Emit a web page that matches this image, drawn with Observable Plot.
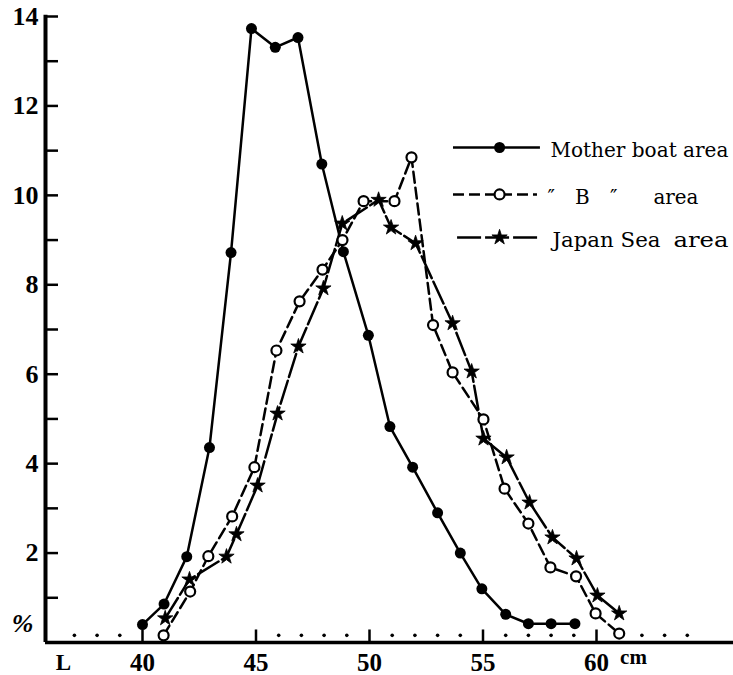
<!DOCTYPE html>
<html><head><meta charset="utf-8">
<script src="https://cdn.jsdelivr.net/npm/d3@7"></script>
<script src="https://cdn.jsdelivr.net/npm/@observablehq/plot@0.6"></script>
<style>body{margin:0;background:#fff} #chart svg{display:block}</style>
</head><body><div id="chart"></div>
<script>
// Mother boat area (filled circles)
const motherLen = [40, 40.95, 41.95, 42.95, 43.9, 44.8, 45.85, 46.85, 47.9, 48.85, 49.95, 50.9, 51.9, 53, 54, 54.95, 56, 57, 58, 59.05];
const motherPct = [0.4, 0.86, 1.92, 4.36, 8.72, 13.73, 13.31, 13.53, 10.7, 8.74, 6.87, 4.83, 3.92, 2.9, 2.0, 1.2, 0.63, 0.42, 0.42, 0.42];
// "B" area (open circles)
const bLen = [40.93, 42.1, 42.9, 43.95, 44.93, 45.9, 46.92, 47.93, 48.81, 49.74, 51.1, 51.85, 52.8, 53.66, 55.02, 55.95, 57.0, 57.97, 59.1, 59.96, 61.0];
const bPct = [0.16, 1.14, 1.93, 2.82, 3.92, 6.53, 7.63, 8.34, 9.0, 9.87, 9.87, 10.85, 7.1, 6.04, 4.99, 3.44, 2.66, 1.68, 1.48, 0.65, 0.2];
// Japan Sea area (stars)
const jLen = [41.0, 42.07, 43.7, 44.14, 45.07, 45.95, 46.87, 47.97, 48.8, 50.4, 50.95, 52.03, 53.66, 54.5, 55.02, 56.04, 57.05, 58.06, 59.12, 60.04, 61.0];
const jPct = [0.54, 1.41, 1.92, 2.42, 3.51, 5.12, 6.62, 7.92, 9.37, 9.9, 9.28, 8.93, 7.14, 6.06, 4.56, 4.14, 3.13, 2.35, 1.88, 1.05, 0.65];

const yTicks = [1,2,3,4,5,6,7,8,9,10,11,12,13,14];
const yLabels = [2,4,6,8,10,12,14];
const xMajor = [40,45,50,55,60];
const xLabels = ["40","45","50","55","60"];
const xDots = [37,38,39,46,47,48,49,51,52,53,54,56,57,58,59,61,62,63,64];
const seriesNames = ["Mother boat area", "\u2033 B \u2033", "area", "Japan Sea", "area"];

const mother = motherLen.map((x,i)=>({x, y: motherPct[i]}));
const bArea = bLen.map((x,i)=>({x, y: bPct[i]}));
const japan = jLen.map((x,i)=>({x, y: jPct[i]}));

const X0 = 35.727;
const numFont = "'Liberation Serif', serif";
const legFont = "'DejaVu Serif', serif";
const T = {fontFamily: numFont, fill: "black"};
const L = {fontFamily: legFont, fill: "black", textAnchor: "start", fontSize: 20, dy: 3};

const svg = Plot.plot({
  width: 733, height: 675,
  marginLeft: 45, marginRight: 0, marginTop: 16, marginBottom: 33,
  x: {domain: [X0, 66.035], axis: null},
  y: {domain: [0, 14], axis: null},
  style: {fontFamily: numFont, background: "white", color: "black"},
  marks: [
    // axes
    Plot.ruleY([0], {strokeWidth: 3.5, stroke: "black"}),
    Plot.ruleX([X0], {y1: 0, y2: 14.03, strokeWidth: 4, stroke: "black"}),
    Plot.ruleY(yTicks, {x1: X0, x2: X0 + 13/22.7, strokeWidth: 2.5, stroke: "black"}),
    Plot.text(yLabels, {...T, x: X0, y: d => d, text: d => String(d), dx: -7, textAnchor: "end", fontSize: 26, fontWeight: "bold"}),
    Plot.text(["%"], {...T, x: X0, y: 0.43, text: d => d, dx: -23, fontSize: 26, fontStyle: "italic", fontWeight: "bold"}),
    Plot.ruleX(xMajor, {y1: 0, y2: 0.28, strokeWidth: 2.5, stroke: "black"}),
    Plot.dot(xDots, {x: d => d, y: 0.16, r: 1.8, fill: "black"}),
    Plot.text(xLabels, {...T, x: d => +d, y: 0, text: d => d, dy: 20, fontSize: 25, fontWeight: "bold"}),
    Plot.text(["L"], {...T, x: 36.52, y: 0, text: d => d, dy: 20, fontSize: 23, fontWeight: "bold"}),
    Plot.text(["cm"], {...T, x: 61.63, y: 0, text: d => d, dy: 15, fontSize: 21, fontWeight: "bold"}),

    // series lines
    Plot.line(mother, {x: "x", y: "y", stroke: "black", strokeWidth: 2.5}),
    Plot.line(bArea, {x: "x", y: "y", stroke: "black", strokeWidth: 2.5, strokeDasharray: "11,5"}),
    Plot.line(japan, {x: "x", y: "y", stroke: "black", strokeWidth: 2.5, strokeDasharray: "24,4"}),
    Plot.dot(mother, {x: "x", y: "y", r: 5.5, fill: "black"}),
    Plot.dot(bArea, {x: "x", y: "y", r: 5, fill: "white", stroke: "black", strokeWidth: 2.2}),
    Plot.dot(japan, {x: "x", y: "y", r: 4.8, symbol: "star", fill: "black", stroke: "black", strokeWidth: 0.8}),

    // legend
    Plot.ruleY([11.07], {x1: 53.70, x2: 57.53, stroke: "black", strokeWidth: 2.5}),
    Plot.dot([55.73], {x: d => d, y: 11.07, r: 5.5, fill: "black"}),
    Plot.ruleY([10.02], {x1: 53.70, x2: 57.40, stroke: "black", strokeWidth: 2.5, strokeDasharray: "11,5"}),
    Plot.dot([55.73], {x: d => d, y: 10.02, r: 5, fill: "white", stroke: "black", strokeWidth: 2.2}),
    Plot.ruleY([9.06], {x1: 53.88, x2: 57.53, stroke: "black", strokeWidth: 2.5, strokeDasharray: "24,4"}),
    Plot.dot([55.73], {x: d => d, y: 9.06, r: 4.8, symbol: "star", fill: "black", stroke: "black", strokeWidth: 0.8}),
    Plot.text([seriesNames[0]], {...L, x: 57.97, y: 11.07, text: d => d}),
    Plot.text([seriesNames[1]], {...L, x: 57.84, y: 10.02, text: d => d}),
    Plot.text([seriesNames[2]], {...L, x: 62.51, y: 10.02, text: d => d}),
    Plot.text([seriesNames[3]], {...L, x: 58.06, y: 9.06, text: d => d}),
    Plot.text([seriesNames[4]], {...L, x: 63.39, y: 9.06, text: d => d})
  ]
});

// match the original typesetting widths of the legend labels
const widths = {"Mother boat area": [178], "\u2033 B \u2033": [70], "Japan Sea": [108], "area": [45, 55]};
const seen = {};
svg.querySelectorAll("text").forEach(t => {
  const s = t.textContent;
  if (widths[s]) {
    const i = seen[s] || 0; seen[s] = i + 1;
    const w = widths[s][Math.min(i, widths[s].length - 1)];
    t.setAttribute("textLength", w);
    t.setAttribute("lengthAdjust", s === "\u2033 B \u2033" ? "spacing" : "spacingAndGlyphs");
  }
});
document.getElementById("chart").appendChild(svg);
</script>
</body></html>
